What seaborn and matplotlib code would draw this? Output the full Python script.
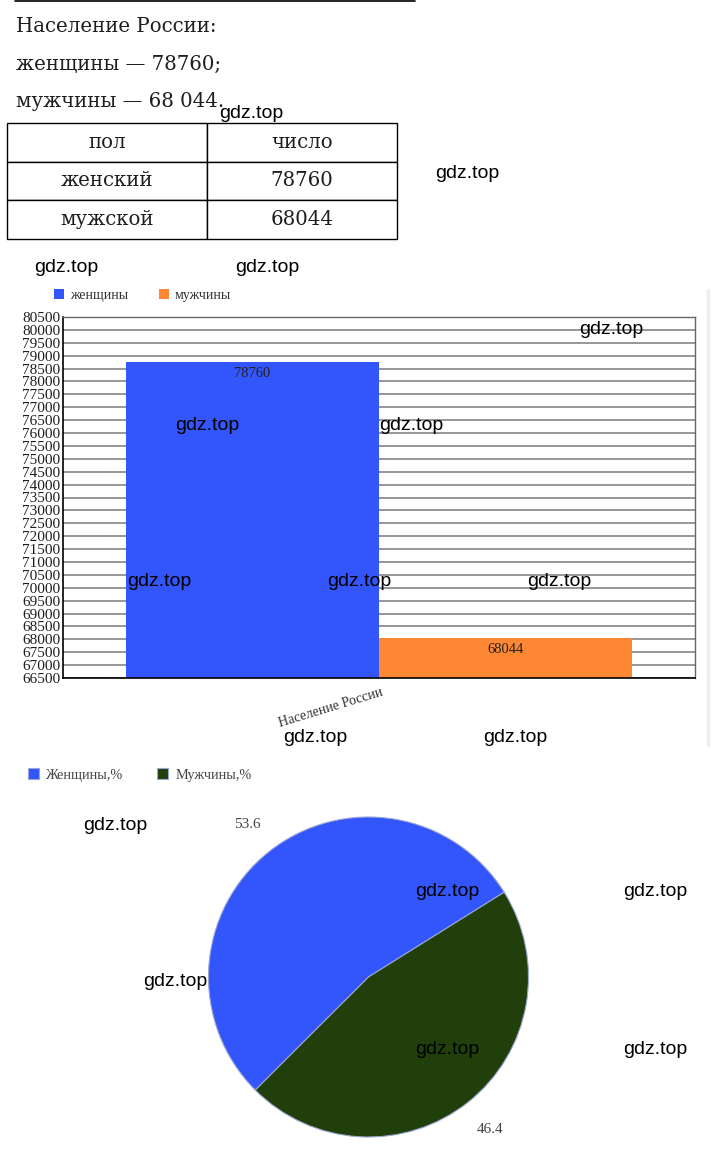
import matplotlib
matplotlib.use("Agg")
import matplotlib.pyplot as plt
import seaborn as sns
import pandas as pd
from matplotlib.lines import Line2D
import matplotlib.transforms as mtransforms

# ---------------- data ----------------
intro_lines = ["Население России:", "женщины — 78760;", "мужчины — 68 044."]

table_header = ["пол", "число"]
table_sex = ["женский", "мужской"]
table_count = [78760, 68044]

bar_category = "Население России"
bar_series = ["женщины", "мужчины"]
bar_values = [78760, 68044]
bar_ticks = list(range(66500, 80501, 500))

pie_labels = ["Женщины,%", "Мужчины,%"]
pie_values = [53.6, 46.4]

watermark = "gdz.top"

# ---------------- style ----------------
sns.set_theme(style="white")
plt.rcParams["font.family"] = ["DejaVu Serif", "DejaVu Sans"]

BLUE = "#3355fc"
ORANGE = "#fd8733"
GREEN = "#213f0b"

W, H = 724, 1165
fig = plt.figure(figsize=(W / 100, H / 100), dpi=100, facecolor="white")


def fx(x):
    return x / W


def fy(y):
    return 1 - y / H


# top rule
fig.add_artist(Line2D([fx(15), fx(415)], [fy(1), fy(1)], color="black", lw=1.2))

# intro text
for line, yb in zip(intro_lines, [32, 70, 107]):
    fig.text(fx(16), fy(yb), line, va="baseline", ha="left",
             family="DejaVu Serif", fontsize=14.2, color="#1e1e1e")

# ---------------- table ----------------
tax = fig.add_axes([fx(7), fy(239), (397 - 7) / W, (239 - 123) / H])
tax.axis("off")
cells = [[s, str(v)] for s, v in zip(table_sex, table_count)]
tbl = tax.table(cellText=cells, colLabels=table_header, bbox=[0, 0, 1, 1],
                cellLoc="center", colWidths=[200 / 390, 190 / 390])
tbl.auto_set_font_size(False)
for (r, c), cell in tbl.get_celld().items():
    cell.set_linewidth(1.0)
    cell.set_edgecolor("black")
    cell.get_text().set_fontsize(14.2)
    cell.get_text().set_family("DejaVu Serif")
    cell.get_text().set_color("#1e1e1e")

# ---------------- bar chart ----------------
bax = fig.add_axes([fx(63), fy(678), (695 - 63) / W, (678 - 317) / H])
df = pd.DataFrame({
    "группа": [bar_category] * len(bar_series),
    "пол": bar_series,
    "значение": bar_values,
})
sns.barplot(data=df, x="группа", y="значение", hue="пол",
            palette=[BLUE, ORANGE], saturation=1, width=0.8, linewidth=0,
            ax=bax)
bax.set_ylim(66500, 80500)
bax.set_xlim(-0.5, 0.5)
bax.set_yticks(bar_ticks)
bax.set_yticklabels([str(t) for t in bar_ticks], family="Liberation Serif",
                    fontsize=11, color="#1e1e1e")
bax.set_xlabel("")
bax.set_ylabel("")
bax.yaxis.grid(True, color="#7a7a7a", lw=1.1)
bax.set_axisbelow(True)
for s in ["left", "bottom"]:
    bax.spines[s].set_color("black")
    bax.spines[s].set_linewidth(1.2)
for s in ["top", "right"]:
    bax.spines[s].set_color("#666666")
    bax.spines[s].set_linewidth(1.0)
bax.tick_params(axis="y", length=0, pad=2)
bax.tick_params(axis="x", length=0, pad=10)
shift = mtransforms.ScaledTranslation(4 / 100, 0, fig.dpi_scale_trans)
for lab in bax.get_xticklabels():
    lab.set_rotation(17)
    lab.set_ha("right")
    lab.set_va("center")
    lab.set_rotation_mode("anchor")
    lab.set_family("Liberation Serif")
    lab.set_fontsize(10)
    lab.set_color("#333333")
    lab.set_transform(lab.get_transform() + shift)
for cont in bax.containers:
    bax.bar_label(cont, padding=-13, fontsize=10.5, family="Liberation Serif",
                  color="#222222")
bax.legend(loc="center left", bbox_to_anchor=(fx(54), fy(295)),
           bbox_transform=fig.transFigure, ncol=2, frameon=False,
           handlelength=0.75, handleheight=0.75, handletextpad=0.4,
           columnspacing=2.2, borderpad=0, borderaxespad=0,
           prop={"family": "Liberation Serif", "size": 10}, labelcolor="#333333")

# faint right border of the scanned chart
fig.add_artist(Line2D([fx(708), fx(708)], [fy(290), fy(745)], color="#eeeeee", lw=2.5))

# ---------------- pie chart ----------------
pax = fig.add_axes([fx(208.5), fy(1137), 320 / W, 320 / H])
wedges, texts = pax.pie(pie_values, labels=[f"{v:.1f}" for v in pie_values],
                        colors=[BLUE, GREEN], startangle=32, counterclock=True,
                        labeldistance=1.22,
                        wedgeprops=dict(edgecolor="#9aa6d6", linewidth=0.8),
                        textprops=dict(family="Liberation Serif", fontsize=11,
                                       color="#444444"))
for t in texts:
    t.set_ha("center")
pax.set_xlim(-1, 1)
pax.set_ylim(-1, 1)
pax.set_aspect("equal")
fig.legend(wedges, pie_labels, loc="center left",
           bbox_to_anchor=(fx(28), fy(775)), ncol=2, frameon=False,
           handlelength=0.75, handleheight=0.75, handletextpad=0.5,
           columnspacing=2.4, borderpad=0, borderaxespad=0,
           prop={"family": "Liberation Serif", "size": 10.3}, labelcolor="#444444")

# ---------------- watermarks ----------------
wm_pos = [(251, 113), (467, 173), (66, 268), (267, 268), (611, 329),
          (207, 425), (411, 425), (159, 581), (359, 581), (559, 581),
          (315, 737), (515, 737), (115, 825), (447, 892), (655, 892),
          (175, 981), (447, 1049), (655, 1049)]
for x, y in wm_pos:
    fig.text(fx(x), fy(y), watermark, ha="center", va="center",
             family="Liberation Sans", fontsize=14, color="black", zorder=100)

fig.savefig("out.png", dpi=100, facecolor="white")
